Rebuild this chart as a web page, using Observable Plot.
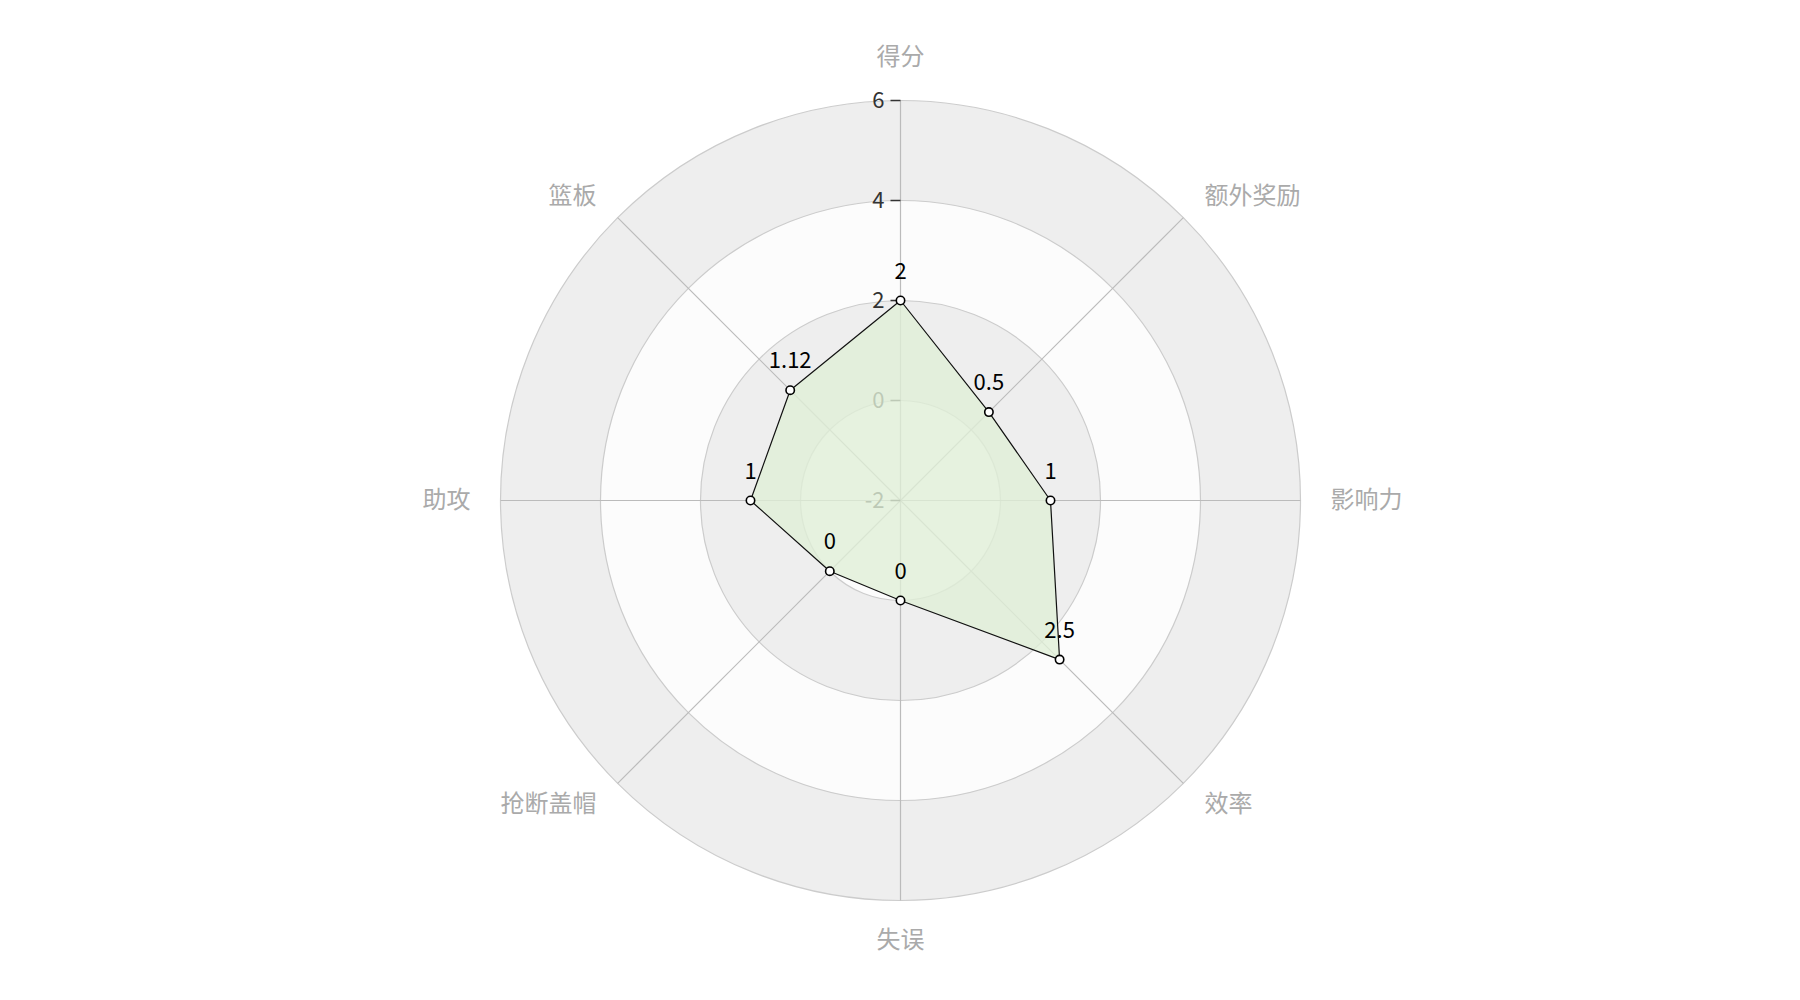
<!DOCTYPE html>
<html>
<head>
<meta charset="utf-8">
<script src="https://cdn.jsdelivr.net/npm/d3@7"></script>
<script src="https://cdn.jsdelivr.net/npm/@observablehq/plot@0.6"></script>
<style>
  html, body { margin: 0; padding: 0; background: #fff; }
  #chart { width: 1800px; height: 1000px; }
</style>
</head>
<body>
<div id="chart"></div>
<script>
// ---- data ----
const categories = ["得分", "额外奖励", "影响力", "效率", "失误", "抢断盖帽", "助攻", "篮板"];
const values = [2, 0.5, 1, 2.5, 0, 0, 1, 1.12];
const valueLabels = ["2", "0.5", "1", "2.5", "0", "0", "1", "1.12"];
const tickValues = [-2, 0, 2, 4, 6];
const tickLabels = ["-2", "0", "2", "4", "6"];
const radialMin = -2;
const radialMax = 6;

// ---- derived geometry (in data units) ----
const n = categories.length;
const R = radialMax - radialMin;          // outer radius in data units
const angle = i => (i * 2 * Math.PI) / n; // clockwise from top
const polar = (i, v) => {
  const r = v - radialMin;
  return { x: r * Math.sin(angle(i)), y: r * Math.cos(angle(i)) };
};

const points = values.map((v, i) => ({ ...polar(i, v), label: valueLabels[i], cat: categories[i] }));
const polygon = [...points, points[0]];

const spokes = categories.map((c, i) => ({ x1: 0, y1: 0, ...(({x, y}) => ({ x2: x, y2: y }))(polar(i, radialMax)) }));

// bands: from outer to inner, alternating fills
const ringRadii = tickValues.filter(t => t > radialMin).map(t => t - radialMin).sort((a, b) => b - a);
const bands = ringRadii.map((r, k) => ({ r, fill: k % 2 === 0 ? "#eeeeee" : "#fcfcfc" }));

const ticks = tickValues.map((t, k) => ({ y: t - radialMin, label: tickLabels[k] }));

const labelR = R + 0.6;
const catLabels = categories.map((c, i) => {
  const s = Math.sin(angle(i)), co = Math.cos(angle(i));
  const anchor = s > 0.1 ? "start" : s < -0.1 ? "end" : "middle";
  const line = anchor !== "middle" ? "middle" : co > 0 ? "bottom" : "top";
  return { name: c, x: labelR * s, y: labelR * co, anchor, line };
});

const font = "'Noto Sans CJK SC', 'Noto Sans', sans-serif";
const unit = 50; // px per data unit
const W = 1800, H = 1000;

const marks = [
  Plot.dot(bands, { x: () => 0, y: () => 0, r: "r", fill: "fill", stroke: "#cccccc", strokeWidth: 1.2 }),
  Plot.link(spokes, { x1: "x1", y1: "y1", x2: "x2", y2: "y2", stroke: "#bbbbbb", strokeWidth: 1.2 }),
  Plot.link(ticks, { x1: -0.2, x2: 0, y1: "y", y2: "y", stroke: "#333", strokeWidth: 1.5 }),
  Plot.text(ticks, { x: 0, y: "y", text: "label", dx: -16, textAnchor: "end", fill: "#333", fontSize: 22 }),
  Plot.line(polygon, { x: "x", y: "y", stroke: "#111", strokeWidth: 1.2, fill: "#e0efd7", fillOpacity: 0.8, curve: "linear" }),
  Plot.dot(points, { x: "x", y: "y", r: 4.2, fill: "#fff", stroke: "#000", strokeWidth: 1.6, symbol: "circle" }),
  Plot.text(points, { x: "x", y: "y", text: "label", dy: -29, fill: "#000", fontSize: 22 }),
];
for (const a of ["start", "end", "middle"]) {
  for (const l of ["top", "middle", "bottom"]) {
    const sub = catLabels.filter(d => d.anchor === a && d.line === l);
    if (sub.length) marks.push(Plot.text(sub, { x: "x", y: "y", text: "name", textAnchor: a, lineAnchor: l, dy: l === "bottom" ? -6 : 0, fill: "#aaaaaa", fontSize: 24 }));
  }
}

const chart = Plot.plot({
  width: W,
  height: H,
  margin: 0,
  style: { fontFamily: font, background: "#fff", overflow: "visible" },
  x: { domain: [-W / 2 / unit, W / 2 / unit], range: [0, W], axis: null },
  y: { domain: [-H / 2 / unit, H / 2 / unit], range: [H, 0], axis: null },
  r: { type: "linear", domain: [0, R], range: [0, R * unit] },
  marks
});
document.getElementById("chart").appendChild(chart);
</script>
</body>
</html>
